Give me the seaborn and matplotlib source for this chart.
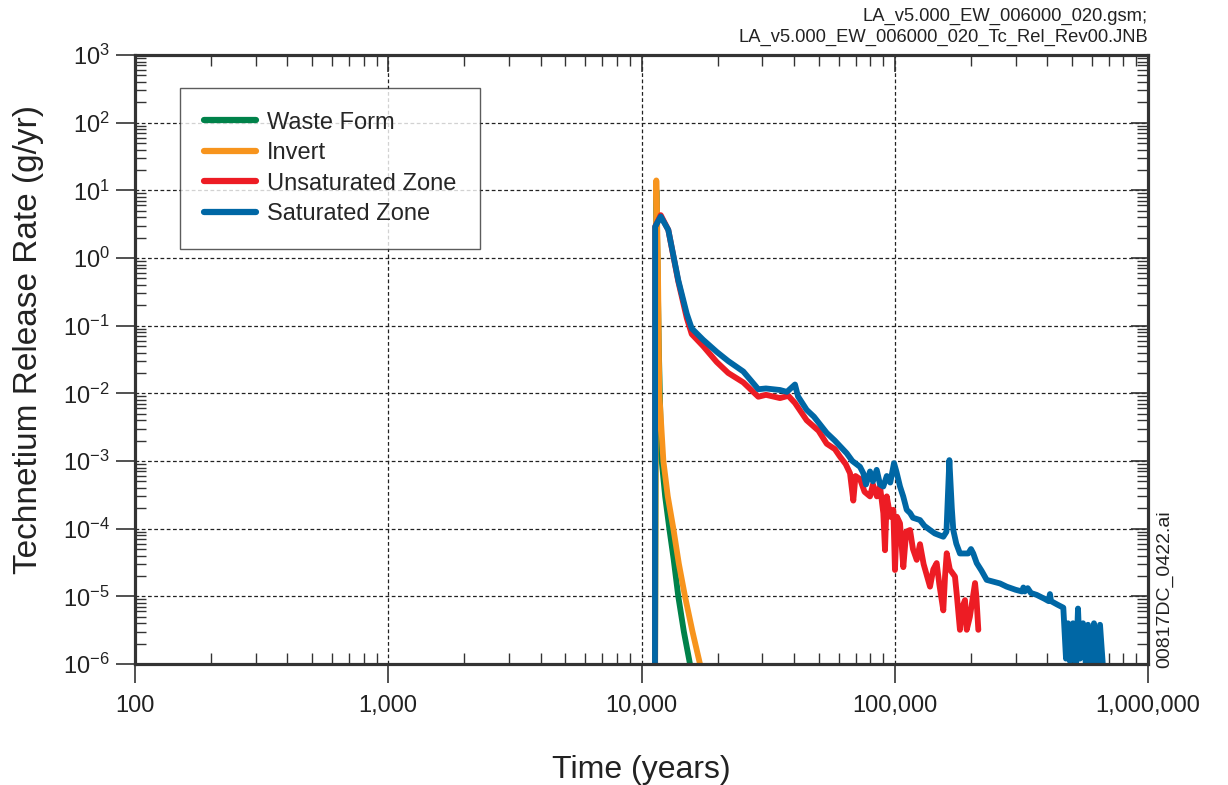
import numpy as np
import pandas as pd
import matplotlib
matplotlib.use("Agg")
import matplotlib.pyplot as plt
import matplotlib.ticker as mticker
import seaborn as sns

series_names = ["Waste Form", "Invert", "Unsaturated Zone", "Saturated Zone"]
series_colors = ["#00824A", "#F7941D", "#ED1C24", "#0067A5"]

wf_time = [11300, 11450, 11700, 11900, 12020, 12400, 12880, 13400, 13970, 14700, 15540, 15800]
wf_rate = [1e-7, 10, 0.05, 3e-3, 1e-3, 3e-4, 1e-4, 3.5e-5, 1e-5, 3e-6, 1e-6, 5e-7]

inv_time = [11300, 11440, 11600, 11760, 12200, 12700, 13360, 14050, 14850, 15900, 17020, 17500]
inv_rate = [1e-7, 14, 1.0, 0.01, 1e-3, 3e-4, 1e-4, 3e-5, 1e-5, 3e-6, 1e-6, 5e-7]

uz_time = [11300, 11320, 11910, 12760, 13970, 15090, 15790, 17500, 19820, 22000, 25240, 28920,
           31000, 35230, 38000, 40370, 44900, 50000, 53870, 58000, 60780, 64000, 66580, 68600,
           70000, 72920, 76000, 79860, 82000, 85000, 87470, 90120, 91520, 93000, 96000, 98700,
           100200, 102000, 104900, 108100, 111000, 114900, 118000, 122100, 125800, 130000,
           137800, 142000, 146400, 150000, 155500, 158000, 160400, 165000, 172900, 176000,
           180900, 185000, 189400, 192400, 198000, 207500, 210000, 213800]
uz_rate = [1e-7, 2.9, 4.3, 2.6, 0.45, 0.13, 0.075, 0.05, 0.029, 0.02, 0.0145, 0.0089,
           0.0095, 0.0085, 0.0092, 0.0072, 0.004, 0.0028, 0.0018, 0.0015, 0.00116, 0.0009, 0.00066, 0.00026,
           0.0006, 0.00054, 0.00035, 0.0003, 0.00045, 0.0003, 0.00042, 0.00017, 0.000048, 0.0003, 0.00015, 0.00019,
           0.0000245, 0.00015, 0.00012, 0.000027, 0.00009, 0.0000955, 0.00005, 0.0000346, 0.000059, 0.00003,
           0.0000139, 0.000025, 0.000031, 0.000015, 6.2e-6, 0.00002, 0.0000433, 0.000025, 0.0000196, 0.00001,
           3.2e-6, 7e-6, 8.8e-6, 3.2e-6, 5e-6, 0.0000157, 0.00001, 3.2e-6]

sz_time = [11300, 11320, 11910, 12760, 13970, 15090, 15790, 17500, 19820, 22000, 25240, 28920,
           31000, 35230, 37500, 39000, 40370, 41500, 44900, 48000, 53870, 58000, 64620, 68000,
           72920, 75120, 77000, 79860, 82000, 84870, 87470, 90120, 93000, 96000, 99320, 101500,
           104900, 108000, 111500, 115000, 118000, 125800, 131000, 137800, 144000, 150000, 155500,
           160000, 164300, 168000, 170300, 175000, 180900, 195000, 200000, 204200, 210700, 220000,
           230700, 260400, 276700, 300000, 318000, 322000, 326000, 335000, 345000, 363600, 390000,
           405000, 410000, 414000, 440000, 463000, 474500, 483200, 492000, 505700, 519600, 529200,
           538900, 553800, 569100, 579600, 600900, 612000, 628800, 646400, 664200]
sz_rate = [1e-7, 2.9, 4.1, 2.6, 0.47, 0.15, 0.091, 0.062, 0.041, 0.030, 0.021, 0.0115,
           0.0118, 0.0112, 0.0105, 0.012, 0.0135, 0.009, 0.0057, 0.0045, 0.0026, 0.0020, 0.0013, 0.0010,
           0.00082, 0.00066, 0.00045, 0.0007, 0.0005, 0.00074, 0.00045, 0.00042, 0.0006, 0.00048, 0.00093, 0.0007,
           0.00042, 0.00030, 0.00019, 0.00017, 0.000145, 0.000134, 0.00011, 0.0000955, 0.000085, 0.00008, 0.000076,
           0.00009, 0.00103, 0.0002, 0.000095, 0.00006, 0.000043, 0.000043, 0.00005, 0.000043, 0.000031, 0.000024,
           0.0000175, 0.0000155, 0.0000139, 0.0000125, 0.0000118, 0.0000135, 0.0000118, 0.0000132, 0.0000112, 0.0000105, 0.0000092,
           0.0000085, 0.0000108, 0.0000085, 0.0000075, 0.0000068, 1.2e-6, 4e-6, 1.1e-6, 4e-6, 0.9e-6, 6.6e-6,
           1.2e-6, 4e-6, 0.9e-6, 3.8e-6, 0.9e-6, 4e-6, 0.9e-6, 3.8e-6, 0.9e-6]

x_ticks = [100, 1000, 10000, 100000, 1000000]
x_tick_labels = ["100", "1,000", "10,000", "100,000", "1,000,000"]

frames = []
for name, t, r in zip(series_names,
                      [wf_time, inv_time, uz_time, sz_time],
                      [wf_rate, inv_rate, uz_rate, sz_rate]):
    frames.append(pd.DataFrame({"Time": t, "Rate": r, "Series": name}))
df = pd.concat(frames, ignore_index=True)

sns.set_style("ticks")
plt.rcParams["font.family"] = ["Liberation Sans", "DejaVu Sans"]
plt.rcParams["axes.unicode_minus"] = False
plt.rcParams["mathtext.fontset"] = "custom"
plt.rcParams["mathtext.rm"] = "Liberation Sans"
plt.rcParams["mathtext.it"] = "Liberation Sans:italic"
plt.rcParams["mathtext.bf"] = "Liberation Sans:bold"

fig = plt.figure(figsize=(12.28, 7.85), dpi=100)
ax = fig.add_axes([135/1228, 1-664/785, (1148-135)/1228, (664-55)/785])

for name, color in zip(series_names, series_colors):
    sub = df[df["Series"] == name]
    sns.lineplot(data=sub, x="Time", y="Rate", color=color, linewidth=4.2,
                 estimator=None, sort=False, ax=ax, label=name,
                 solid_joinstyle="round", solid_capstyle="round")

ax.set_xscale("log")
ax.set_yscale("log")
ax.set_xlim(100, 1e6)
ax.set_ylim(1e-6, 1e3)

ax.yaxis.set_major_locator(mticker.LogLocator(base=10, numticks=20))
ax.yaxis.set_minor_locator(mticker.LogLocator(base=10, subs=np.arange(2, 10), numticks=20))
ax.xaxis.set_minor_locator(mticker.LogLocator(base=10, subs=np.arange(2, 10), numticks=20))
ax.yaxis.set_minor_formatter(mticker.NullFormatter())
ax.xaxis.set_minor_formatter(mticker.NullFormatter())
ax.set_xticks(x_ticks)
ax.set_xticklabels(x_tick_labels)

ax.grid(True, which="major", linestyle=(0, (3, 2)), color="#222222", linewidth=0.9)
ax.tick_params(which="major", direction="out", length=14, width=1.2, labelsize=17,
               pad=4, colors="#333333", labelcolor="#222222")
ax.tick_params(which="minor", direction="in", length=8, width=1.0, colors="#333333")
ax.tick_params(axis="x", which="major", pad=8)
ax.tick_params(top=False, right=False, which="both")
for s in ax.spines.values():
    s.set_linewidth(2.2)
    s.set_color("#333333")

# top and right inward ticks
ax_top = ax.twiny()
ax_top.set_xscale("log")
ax_top.set_xlim(ax.get_xlim())
ax_top.xaxis.set_minor_locator(mticker.LogLocator(base=10, subs=np.arange(2, 10), numticks=20))
ax_top.xaxis.set_minor_formatter(mticker.NullFormatter())
ax_top.set_xticks(x_ticks)
ax_top.tick_params(which="both", direction="in", labeltop=False, colors="#333333")
ax_top.tick_params(which="major", length=12, width=1.2)
ax_top.tick_params(which="minor", length=8, width=1.0)

ax_right = ax.twinx()
ax_right.set_yscale("log")
ax_right.set_ylim(ax.get_ylim())
ax_right.yaxis.set_major_locator(mticker.LogLocator(base=10, numticks=20))
ax_right.yaxis.set_minor_locator(mticker.LogLocator(base=10, subs=np.arange(2, 10), numticks=20))
ax_right.yaxis.set_minor_formatter(mticker.NullFormatter())
ax_right.tick_params(which="both", direction="in", labelright=False, colors="#333333")
ax_right.tick_params(which="major", length=12, width=1.2)
ax_right.tick_params(which="minor", length=8, width=1.0)
for a in (ax_top, ax_right):
    for s in a.spines.values():
        s.set_linewidth(2.2)
        s.set_color("#333333")

ax.set_xlabel("Time (years)", fontsize=23, labelpad=28, color="#222222")
ax.set_ylabel("Technetium Release Rate (g/yr)", fontsize=24, color="#222222")
ax.yaxis.set_label_coords(-0.090, 1-(340-55)/609)

leg = ax.legend(loc="upper left", bbox_to_anchor=(45/1013, 1-33/609), fontsize=17,
                frameon=True, fancybox=False, edgecolor="#333333", handlelength=2.2,
                handletextpad=0.5, borderpad=1.0, labelspacing=0.36, borderaxespad=0)
leg.get_frame().set_linewidth(1.0)
for line in leg.get_lines():
    line.set_linewidth(4.5)
    line.set_solid_capstyle("round")

fig.text(1148/1228, 1-8/785, "LA_v5.000_EW_006000_020.gsm;\nLA_v5.000_EW_006000_020_Tc_Rel_Rev00.JNB",
         ha="right", va="top", fontsize=13.2, color="#222222", linespacing=1.25)
fig.text(1165/1228, 1-589/785, "00817DC_0422.ai", rotation=90, ha="center", va="center",
         fontsize=14, color="#222222")

fig.savefig("out.png", dpi=100)
